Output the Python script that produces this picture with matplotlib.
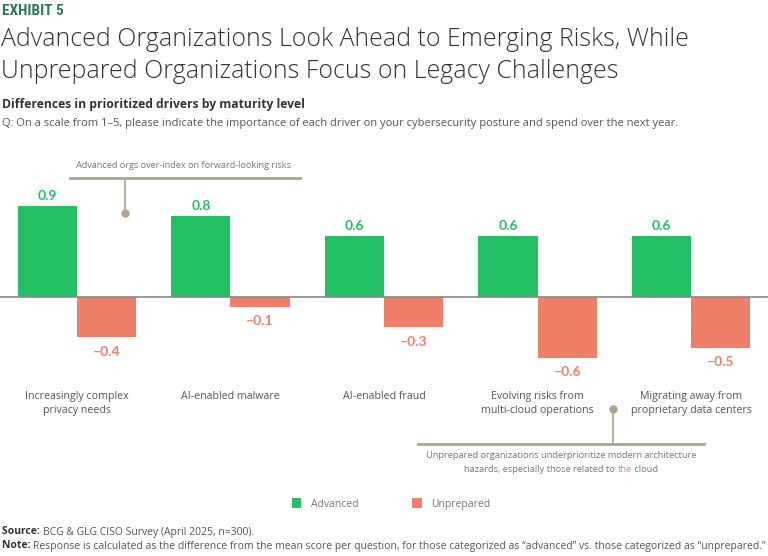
import numpy as np
import matplotlib
matplotlib.use("Agg")
import matplotlib.pyplot as plt
from matplotlib.transforms import blended_transform_factory

# data
categories = ["Increasingly complex\nprivacy needs", "AI-enabled malware", "AI-enabled fraud",
              "Evolving risks from\nmulti-cloud operations", "Migrating away from\nproprietary data centers"]
advanced = [0.9, 0.8, 0.6, 0.6, 0.6]
unprepared = [-0.4, -0.1, -0.3, -0.6, -0.5]
series_names = ["Advanced", "Unprepared"]

GREEN = "#22C062"
SALMON = "#F07F69"
TAN = "#B3A28E"
GREY = "#555555"
DARK = "#333333"

plt.rcParams['font.family'] = ['Open Sans', 'DejaVu Sans']

W, H = 768, 556
fig = plt.figure(figsize=(W / 100, H / 100), dpi=100)


def fx(px):
    return px / W


def fy(py):
    return 1 - py / H


# axes: x spans whole width, baseline at y=297 px, 101 px per unit
top_px, bot_px = 170, 380
ax = fig.add_axes([0, fy(bot_px), 1, (bot_px - top_px) / H])
ax.set_xlim(-0.5, 4.5)
ax.set_ylim(-(bot_px - 297) / 101, (297 - top_px) / 101)
ax.axis("off")

x = np.arange(len(categories))
bw = 0.385
ax.bar(x - bw / 2, advanced, bw, color=GREEN, label=series_names[0])
ax.bar(x + bw / 2, unprepared, bw, color=SALMON, label=series_names[1])
ax.axhline(0, color="#888888", lw=1.2, zorder=3)

for i in range(len(categories)):
    ax.annotate(f"{advanced[i]:.1f}", (x[i] - bw / 2, advanced[i]), xytext=(0, 3),
                textcoords="offset points", ha="center", va="bottom",
                color=GREEN, fontsize=10, fontweight="bold", family=["Lato", "DejaVu Sans"])
    ax.annotate(f"\u2013{abs(unprepared[i]):.1f}", (x[i] + bw / 2, unprepared[i]), xytext=(0, -6),
                textcoords="offset points", ha="center", va="top",
                color=SALMON, fontsize=10, fontweight="bold", family=["Lato", "DejaVu Sans"])

tr = blended_transform_factory(ax.transData, fig.transFigure)
for i, c in enumerate(categories):
    ax.text(x[i], fy(391), c, transform=tr, ha="center", va="top", fontsize=7.7,
            color=GREY, linespacing=1.35)

# titles
fig.text(fx(2), fy(11), "EXHIBIT 5", color="#2B7A55", fontsize=11, fontweight="bold",
         va="center", ha="left", family=["Roboto Condensed", "Open Sans", "DejaVu Sans"])
fig.text(fx(1), fy(39), "Advanced Organizations Look Ahead to Emerging Risks, While",
         fontsize=17.9, color=DARK, va="center", ha="left", fontweight="light")
fig.text(fx(1), fy(71), "Unprepared Organizations Focus on Legacy Challenges",
         fontsize=17.9, color=DARK, va="center", ha="left", fontweight="light")
fig.text(fx(2), fy(105), "Differences in prioritized drivers by maturity level", fontsize=8.75,
         fontweight="bold", color=DARK, va="center", ha="left")
fig.text(fx(2), fy(124), "Q: On a scale from 1\u20135, please indicate the importance of each driver "
         "on your cybersecurity posture and spend over the next year.",
         fontsize=8, color=GREY, va="center", ha="left")

# top annotation
fig.add_artist(plt.Line2D([fx(70), fx(300)], [fy(178), fy(178)], color=TAN, lw=2))
fig.add_artist(plt.Line2D([fx(125), fx(125)], [fy(178), fy(213)], color=TAN, lw=1.2))
fig.add_artist(plt.Line2D([fx(125)], [fy(213)], color=TAN, marker="o", ms=5))
fig.text(fx(184), fy(166), "Advanced orgs over-index on forward-looking risks", fontsize=6.6,
         color="#777777", ha="center", va="center")

# bottom annotation
fig.add_artist(plt.Line2D([fx(418), fx(704)], [fy(444), fy(444)], color=TAN, lw=2))
fig.add_artist(plt.Line2D([fx(613), fx(613)], [fy(409), fy(444)], color=TAN, lw=1.2))
fig.add_artist(plt.Line2D([fx(613)], [fy(409)], color=TAN, marker="o", ms=5))
fig.text(fx(561), fy(456), "Unprepared organizations underprioritize modern architecture",
         fontsize=6.7, color="#777777", ha="center", va="center")

renderer = fig.canvas.get_renderer()


def pieces(x_center_px, y_px, parts, **kw):
    # draw several text pieces side by side, centered on x_center_px
    texts = [fig.text(0, fy(y_px), s, va="center", ha="left", **kw, **p) for s, p in parts]
    widths = [t.get_window_extent(renderer).width for t in texts]
    start = x_center_px - sum(widths) / 2
    for t, w in zip(texts, widths):
        t.set_x(fx(start))
        start += w
    return texts


pieces(561, 469, [("hazards, especially those related to ", {"color": "#777777"}),
                  ("the", {"color": SALMON}),
                  (" cloud", {"color": "#777777"})], fontsize=6.7)

# legend
fig.legend(loc="center", bbox_to_anchor=(fx(391), fy(504)), ncol=2, frameon=False,
           fontsize=7.5, handlelength=0.9, handleheight=1.0, columnspacing=5.2,
           handletextpad=0.9, labelcolor="#777777")


def left_pieces(x_px, y_px, parts, **kw):
    start = x_px
    for s, p in parts:
        t = fig.text(fx(start), fy(y_px), s, va="center", ha="left", **kw, **p)
        start += t.get_window_extent(renderer).width


left_pieces(2, 532, [("Source: ", {"fontweight": "bold", "color": DARK}),
                     ("BCG & GLG CISO Survey (April 2025, n=300).", {"color": GREY})], fontsize=7.5)
left_pieces(2, 546, [("Note: ", {"fontweight": "bold", "color": DARK}),
                     ("Response is calculated as the difference from the mean score per question, "
                      "for those categorized as \u201cadvanced\u201d vs. those categorized as "
                      "\u201cunprepared.\u201d", {"color": GREY})], fontsize=7.5)

fig.savefig("out.png", dpi=100)
